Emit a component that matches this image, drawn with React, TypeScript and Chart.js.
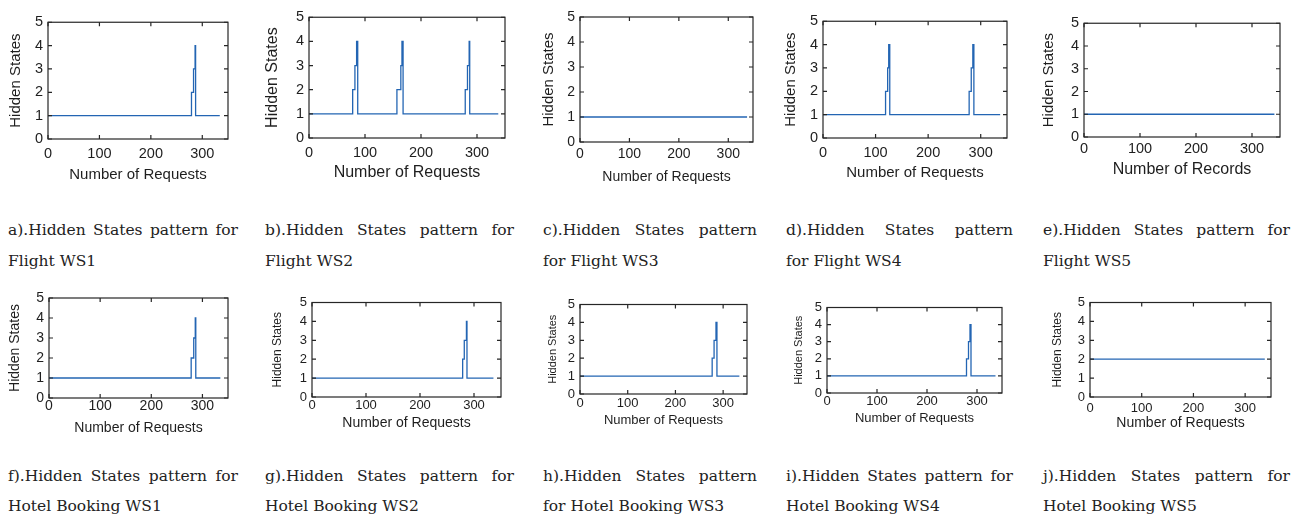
import React, { useEffect, useRef } from "react";
import { Chart, registerables } from "chart.js";

Chart.register(...registerables);

// ---- shared axis values ----
const X_TICKS = [0, 100, 200, 300];
const Y_TICKS = [0, 1, 2, 3, 4, 5];
const X_MAX = 350;
const Y_MAX = 5;

// ---- series: x = request index where the state starts, y = hidden state ----
const flightWS1X = [0, 279, 283, 286, 287, 334];
const flightWS1Y = [1, 2, 3, 4, 1, 1];
const flightWS2X = [0, 78, 82, 85, 87, 157, 164, 166, 168, 279, 283, 286, 287, 338];
const flightWS2Y = [1, 2, 3, 4, 1, 2, 3, 4, 1, 2, 3, 4, 1, 1];
const flightWS3X = [0, 338];
const flightWS3Y = [1, 1];
const flightWS4X = [0, 119, 123, 125, 127, 278, 282, 285, 287, 337];
const flightWS4Y = [1, 2, 3, 4, 1, 2, 3, 4, 1, 1];
const flightWS5X = [0, 340];
const flightWS5Y = [1, 1];
const hotelWS1X = [0, 278, 283, 286, 287, 335];
const hotelWS1Y = [1, 2, 3, 4, 1, 1];
const hotelWS2X = [0, 279, 282, 286, 287, 336];
const hotelWS2Y = [1, 2, 3, 4, 1, 1];
const hotelWS3X = [0, 277, 281, 285, 287, 334];
const hotelWS3Y = [1, 2, 3, 4, 1, 1];
const hotelWS4X = [0, 279, 283, 286, 288, 337];
const hotelWS4Y = [1, 2, 3, 4, 1, 1];
const hotelWS5X = [0, 338];
const hotelWS5Y = [2, 2];

const Y_TITLE = "Hidden States";
const X_TITLE_REQ = "Number of Requests";
const X_TITLE_REC = "Number of Records";

const CAPTIONS_L1 = [
  "a).Hidden States pattern for",
  "b).Hidden States pattern for",
  "c).Hidden States pattern",
  "d).Hidden States pattern",
  "e).Hidden States pattern for",
  "f).Hidden States pattern for",
  "g).Hidden States pattern for",
  "h).Hidden States pattern",
  "i).Hidden States pattern for",
  "j).Hidden States pattern for",
];
const CAPTIONS_L2 = [
  "Flight WS1",
  "Flight WS2",
  "for Flight WS3",
  "for Flight WS4",
  "Flight WS5",
  "Hotel Booking WS1",
  "Hotel Booking WS2",
  "for Hotel Booking WS3",
  "Hotel Booking WS4",
  "Hotel Booking WS5",
];

// ---- layout (page coordinates) ----
type PanelCfg = {
  xs: number[];
  ys: number[];
  xTitle: string;
  plot: [number, number, number, number]; // left, top, right, bottom
  yTitleX: number;
  xTitleY: number;
  xTickGap: number;
  tickSize: number;
  yTitleSize: number;
  xTitleSize: number;
};

const PANELS: PanelCfg[] = [
  { xs: flightWS1X, ys: flightWS1Y, xTitle: X_TITLE_REQ, plot: [48, 20, 228, 139], yTitleX: 15, xTitleY: 174, xTickGap: 15, tickSize: 14.5, yTitleSize: 15, xTitleSize: 15 },
  { xs: flightWS2X, ys: flightWS2Y, xTitle: X_TITLE_REQ, plot: [309, 15, 505, 138], yTitleX: 273, xTitleY: 173, xTickGap: 15, tickSize: 14.5, yTitleSize: 16, xTitleSize: 16 },
  { xs: flightWS3X, ys: flightWS3Y, xTitle: X_TITLE_REQ, plot: [580, 15, 753, 142], yTitleX: 548, xTitleY: 177, xTickGap: 12.5, tickSize: 14, yTitleSize: 15, xTitleSize: 14 },
  { xs: flightWS4X, ys: flightWS4Y, xTitle: X_TITLE_REQ, plot: [823, 19, 1007, 138], yTitleX: 790, xTitleY: 172, xTickGap: 15, tickSize: 14.5, yTitleSize: 15, xTitleSize: 15 },
  { xs: flightWS5X, ys: flightWS5Y, xTitle: X_TITLE_REC, plot: [1084, 21, 1280, 137], yTitleX: 1048, xTitleY: 170, xTickGap: 12, tickSize: 14.5, yTitleSize: 15, xTitleSize: 16 },
  { xs: hotelWS1X, ys: hotelWS1Y, xTitle: X_TITLE_REQ, plot: [49, 296, 228, 398], yTitleX: 15, xTitleY: 428, xTickGap: 8.5, tickSize: 14, yTitleSize: 14, xTitleSize: 14 },
  { xs: hotelWS2X, ys: hotelWS2Y, xTitle: X_TITLE_REQ, plot: [312, 301, 501, 397], yTitleX: 278, xTitleY: 423, xTickGap: 8, tickSize: 13, yTitleSize: 12, xTitleSize: 14 },
  { xs: hotelWS3X, ys: hotelWS3Y, xTitle: X_TITLE_REQ, plot: [580, 303, 747, 394], yTitleX: 552, xTitleY: 420, xTickGap: 9, tickSize: 13, yTitleSize: 11, xTitleSize: 13 },
  { xs: hotelWS4X, ys: hotelWS4Y, xTitle: X_TITLE_REQ, plot: [827, 306, 1002, 393], yTitleX: 798, xTitleY: 418, xTickGap: 8.5, tickSize: 13, yTitleSize: 11, xTitleSize: 13 },
  { xs: hotelWS5X, ys: hotelWS5Y, xTitle: X_TITLE_REQ, plot: [1090, 301, 1271, 397], yTitleX: 1058, xTitleY: 423, xTickGap: 11, tickSize: 13, yTitleSize: 12, xTitleSize: 14 },
];

const CAPTION_COLS: [number, number][] = [
  [8, 238],
  [265, 514],
  [543, 757],
  [786, 1013],
  [1043, 1290],
];
const CAPTION_ROWS = [230, 261, 476, 506];

const LINE_COLOR = "#2365b3";
const AXIS_COLOR = "#262626";
const TEXT_COLOR = "#1e1e1e";
const SANS = "'Liberation Sans', Arial, sans-serif";

const boxPlugin = {
  id: "matlabBox",
  afterDraw(chart: any) {
    const { ctx, chartArea, scales } = chart;
    const { left, top, right, bottom } = chartArea;
    const xs = scales.x;
    const ys = scales.y;
    const tl = 4;
    ctx.save();
    ctx.strokeStyle = AXIS_COLOR;
    ctx.lineWidth = 1.2;
    ctx.strokeRect(left, top, right - left, bottom - top);
    ctx.beginPath();
    X_TICKS.forEach((v) => {
      const px = xs.getPixelForValue(v);
      ctx.moveTo(px, bottom);
      ctx.lineTo(px, bottom - tl);
      ctx.moveTo(px, top);
      ctx.lineTo(px, top + tl);
    });
    Y_TICKS.forEach((v) => {
      const py = ys.getPixelForValue(v);
      ctx.moveTo(left, py);
      ctx.lineTo(left + tl, py);
      ctx.moveTo(right, py);
      ctx.lineTo(right - tl, py);
    });
    ctx.stroke();
    ctx.restore();
  },
};

function Panel({ cfg }: { cfg: PanelCfg }) {
  const ref = useRef<HTMLCanvasElement>(null);
  const [l, t, r, b] = cfg.plot;
  const canvasLeft = Math.round(cfg.yTitleX - cfg.yTitleSize / 2 - 2);
  const canvasTop = t - 10;
  const canvasRight = r + 12;
  const canvasBottom = Math.round(cfg.xTitleY + cfg.xTitleSize / 2 + 2);
  const W = canvasRight - canvasLeft;
  const H = canvasBottom - canvasTop;
  const leftW = l - canvasLeft;
  const bottomH = canvasBottom - b;
  const xPad = Math.max(0, cfg.xTickGap - cfg.tickSize / 2);

  useEffect(() => {
    if (!ref.current) return;
    const chart = new Chart(ref.current, {
      type: "line",
      data: {
        datasets: [
          {
            data: cfg.xs.map((v, i) => ({ x: v, y: cfg.ys[i] })),
            borderColor: LINE_COLOR,
            borderWidth: 1.3,
            pointRadius: 0,
            stepped: "before",
            fill: false,
          },
        ],
      },
      options: {
        animation: false,
        responsive: false,
        maintainAspectRatio: false,
        layout: { padding: { top: 10, right: 12, left: 0, bottom: 0 } },
        plugins: { legend: { display: false }, tooltip: { enabled: false } },
        scales: {
          x: {
            type: "linear",
            min: 0,
            max: X_MAX,
            afterBuildTicks: (s: any) => {
              s.ticks = X_TICKS.map((v) => ({ value: v }));
            },
            afterFit: (s: any) => {
              s.height = bottomH;
            },
            grid: { display: false, drawTicks: false, tickLength: 0 },
            border: { display: false },
            ticks: {
              padding: xPad,
              autoSkip: false,
              maxRotation: 0,
              color: TEXT_COLOR,
              font: { family: SANS, size: cfg.tickSize, lineHeight: 1 },
            },
            title: {
              display: true,
              text: cfg.xTitle,
              color: TEXT_COLOR,
              font: { family: SANS, size: cfg.xTitleSize, lineHeight: 1 },
              padding: { top: 0, bottom: 2 },
            },
          },
          y: {
            type: "linear",
            min: 0,
            max: Y_MAX,
            afterBuildTicks: (s: any) => {
              s.ticks = Y_TICKS.map((v) => ({ value: v }));
            },
            afterFit: (s: any) => {
              s.width = leftW;
            },
            grid: { display: false, drawTicks: false, tickLength: 0 },
            border: { display: false },
            ticks: {
              padding: 5,
              autoSkip: false,
              color: TEXT_COLOR,
              font: { family: SANS, size: cfg.tickSize, lineHeight: 1 },
            },
            title: {
              display: true,
              text: Y_TITLE,
              color: TEXT_COLOR,
              font: { family: SANS, size: cfg.yTitleSize, lineHeight: 1 },
              padding: { top: 2, bottom: 0 },
            },
          },
        },
      } as any,
      plugins: [boxPlugin],
    });
    return () => chart.destroy();
  }, []);

  return (
    <canvas
      ref={ref}
      width={W}
      height={H}
      style={{ position: "absolute", left: canvasLeft, top: canvasTop, width: W, height: H }}
    />
  );
}

export default function App() {
  const captionStyle: React.CSSProperties = {
    position: "absolute",
    fontFamily: "'DejaVu Serif', serif",
    fontSize: 15.5,
    lineHeight: "20px",
    color: "#222",
    whiteSpace: "nowrap",
  };
  return (
    <div
      style={{
        position: "fixed",
        left: 0,
        top: 0,
        width: 1291,
        height: 517,
        background: "#fff",
        overflow: "hidden",
      }}
    >
      {PANELS.map((p, i) => (
        <Panel key={i} cfg={p} />
      ))}
      {CAPTIONS_L1.map((txt, i) => {
        const [cl, cr] = CAPTION_COLS[i % 5];
        const row = i < 5 ? 0 : 2;
        return (
          <React.Fragment key={i}>
            <div
              style={{
                ...captionStyle,
                left: cl,
                width: cr - cl,
                top: CAPTION_ROWS[row] - 10,
                textAlign: "justify",
                textAlignLast: "justify",
              }}
            >
              {txt}
            </div>
            <div style={{ ...captionStyle, left: cl, top: CAPTION_ROWS[row + 1] - 10 }}>
              {CAPTIONS_L2[i]}
            </div>
          </React.Fragment>
        );
      })}
    </div>
  );
}
